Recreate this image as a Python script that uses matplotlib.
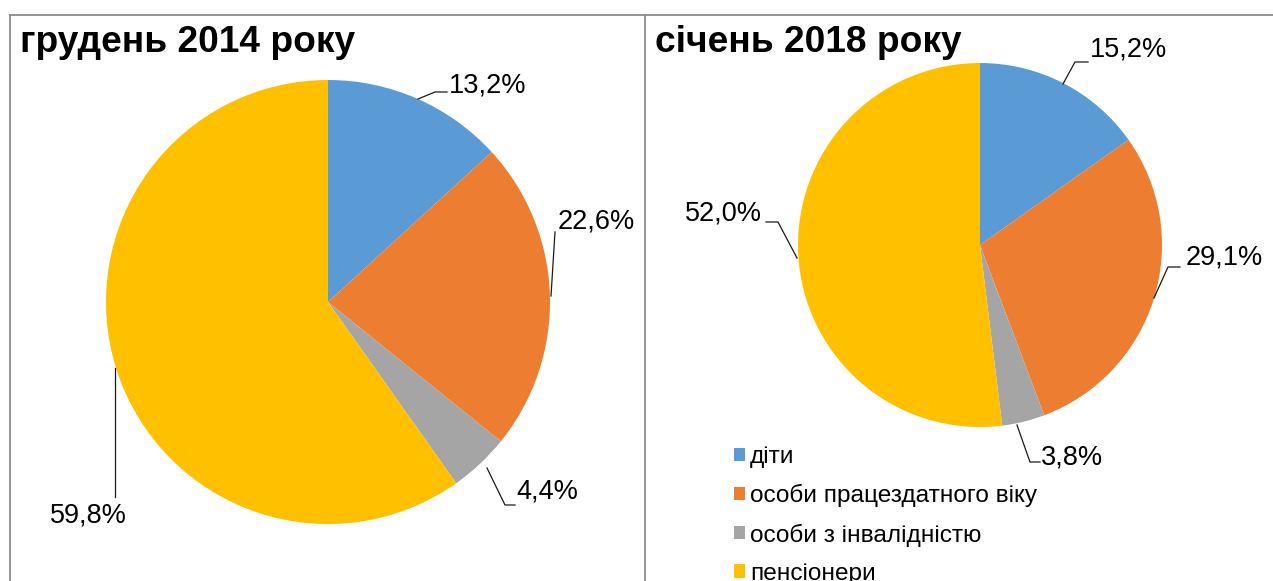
import matplotlib
matplotlib.use('Agg')
import matplotlib.pyplot as plt

plt.rcParams['font.family'] = ['Liberation Sans', 'DejaVu Sans']

# Structure of recipients, %
categories = ['діти', 'особи працездатного віку', 'особи з інвалідністю', 'пенсіонери']
share_2014 = [13.2, 22.6, 4.4, 59.8]
share_2018 = [15.2, 29.1, 3.8, 52.0]
titles = ['грудень 2014 року', 'січень 2018 року']
colors = ['#5B9BD5', '#ED7D31', '#A5A5A5', '#FFC000']

W, H = 1273, 581
fig = plt.figure(figsize=(W / 100, H / 100), dpi=100)
ax = fig.add_axes([0, 0, 1, 1])


def Y(y):
    # pixel row (from top) -> data y
    return H - y


# frame of the two panels
frame = dict(color='#8c8c8c', lw=1.3, zorder=1)
ax.plot([10, W], [Y(15), Y(15)], **frame)
ax.plot([10, 10], [Y(15), 0], **frame)
ax.plot([645, 645], [Y(15), 0], **frame)


def fmt(v):
    return f'{v:.1f}%'.replace('.', ',')


def draw_pie(values, center, radius, title, title_xy, labels):
    wedges, _ = ax.pie(values, colors=colors, startangle=90, counterclock=False,
                       center=(center[0], Y(center[1])), radius=radius,
                       wedgeprops=dict(linewidth=0), frame=True)
    ax.text(title_xy[0], Y(title_xy[1]), title, fontsize=26.7, fontweight='bold',
            ha='left', va='center')
    for v, (pts, txy, ha) in zip(values, labels):
        xs = [p[0] for p in pts]
        ys = [Y(p[1]) for p in pts]
        ax.plot(xs, ys, color='#1a1a1a', lw=0.9, zorder=3)
        ax.text(txy[0], Y(txy[1]), fmt(v), fontsize=19.5, ha=ha, va='center')
    return wedges


# leader lines (pixel points) and label anchors for each slice
labels_2014 = [
    ([(418, 99), (435, 92), (447, 92)], (449, 86), 'left'),
    ([(551, 296), (555, 232)], (558, 222), 'left'),
    ([(487, 468), (505, 505), (515, 505)], (516, 492), 'left'),
    ([(115, 368), (115, 497)], (88, 516), 'center'),
]
labels_2018 = [
    ([(1063, 84), (1075, 62), (1088, 62)], (1090, 50), 'left'),
    ([(1154, 298), (1168, 267), (1180, 267)], (1186, 258), 'left'),
    ([(1017, 425), (1030, 462), (1040, 462)], (1041, 457), 'left'),
    ([(797, 258), (778, 222), (766, 222)], (762, 213), 'right'),
]

wedges = draw_pie(share_2014, (328, 302), 222, titles[0], (20, 43), labels_2014)
draw_pie(share_2018, (980, 245), 182, titles[1], (655, 43), labels_2018)

ax.set_xlim(0, W)
ax.set_ylim(0, H)
ax.set_aspect('equal')
ax.axis('off')

leg = ax.legend(wedges, categories, loc='upper left',
                bbox_to_anchor=(734 / W, 1 - 446 / H), bbox_transform=fig.transFigure,
                frameon=False, fontsize=17.6, handlelength=0.45, handleheight=0.45,
                handletextpad=0.2, labelspacing=0.66, borderpad=0, borderaxespad=0)

fig.savefig('out.png', dpi=100)
